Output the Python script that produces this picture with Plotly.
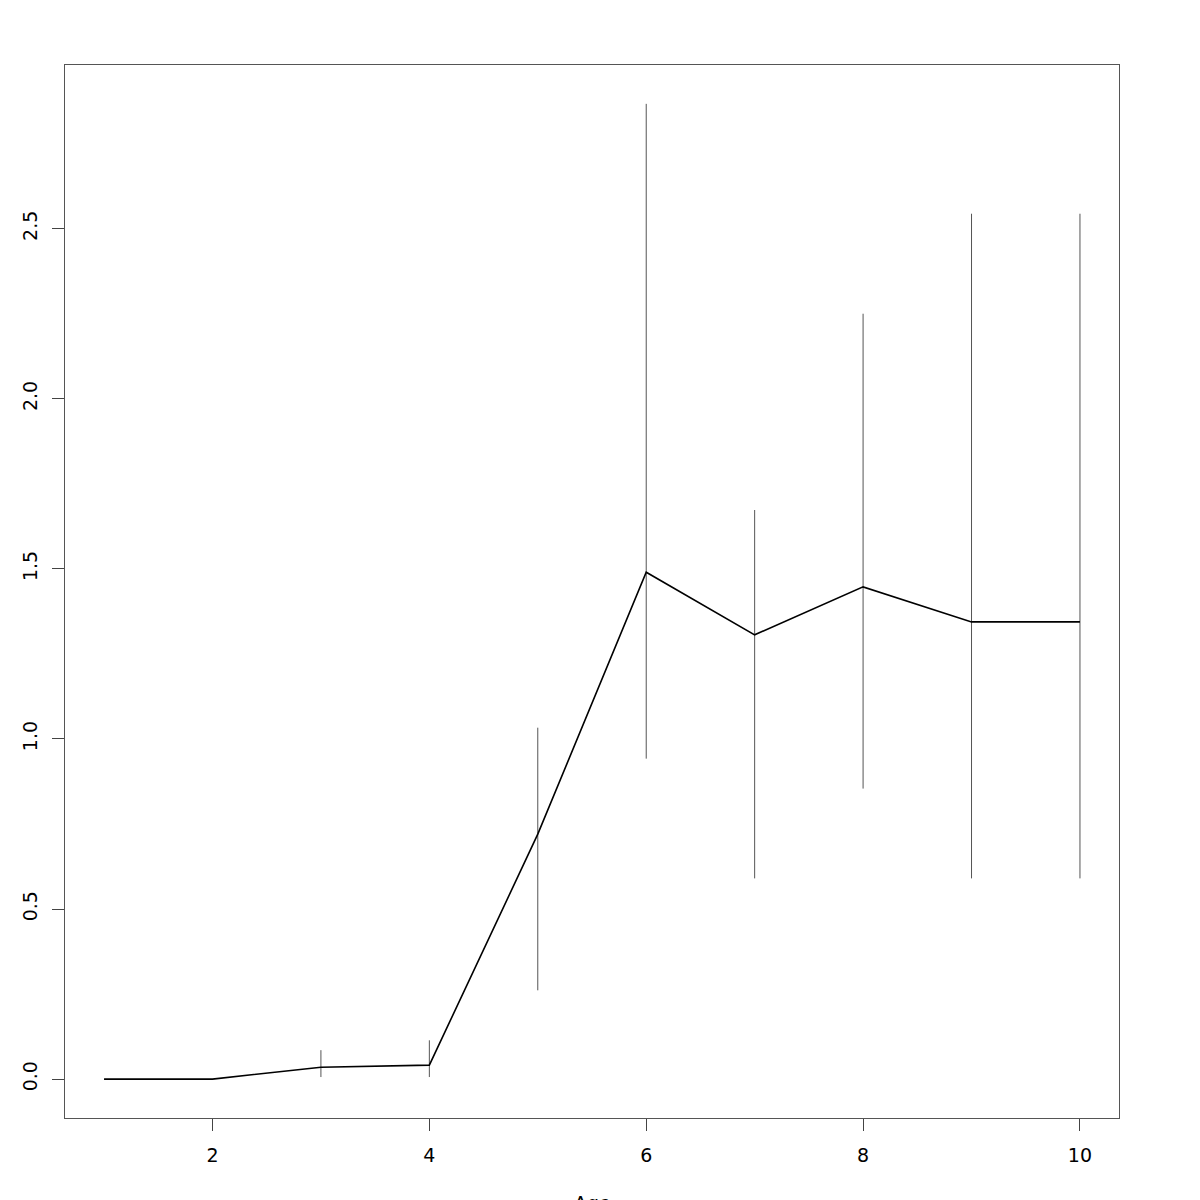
import plotly.graph_objects as go

age = [1, 2, 3, 4, 5, 6, 7, 8, 9, 10]
mean_val = [0.0, 0.0, 0.035, 0.041, 0.72, 1.49, 1.306, 1.447, 1.344, 1.344]
lower = [0.0, 0.0, 0.006, 0.006, 0.261, 0.942, 0.59, 0.854, 0.59, 0.59]
upper = [0.0, 0.0, 0.085, 0.114, 1.033, 2.867, 1.673, 2.25, 2.544, 2.544]
x_ticks = [2, 4, 6, 8, 10]
y_ticks = [0.0, 0.5, 1.0, 1.5, 2.0, 2.5]
y_tick_text = ["0.0", "0.5", "1.0", "1.5", "2.0", "2.5"]

err_plus = [u - m for u, m in zip(upper, mean_val)]
err_minus = [m - l for m, l in zip(mean_val, lower)]

fig = go.Figure()
fig.add_trace(go.Scatter(
    x=age, y=mean_val, mode="lines",
    line=dict(color="black", width=1.6),
    error_y=dict(type="data", symmetric=False, array=err_plus, arrayminus=err_minus,
                 color="#555555", thickness=1, width=0),
    showlegend=False,
))

font = dict(family="DejaVu Sans", size=19, color="black")
fig.update_layout(
    width=1192, height=1192,
    margin=dict(l=57, r=81, t=57, b=82),
    paper_bgcolor="white", plot_bgcolor="white",
    font=font,
    xaxis=dict(range=[0.64, 10.36], tickvals=x_ticks, ticks="outside", ticklen=12,
               tickcolor="#444444", showline=True, linecolor="#555555", linewidth=1,
               mirror=True, showgrid=False, zeroline=False, tickfont=font,
               ticklabelstandoff=8, automargin=False),
    yaxis=dict(range=[-0.1144, 2.9812], tickvals=y_ticks, ticktext=y_tick_text,
               ticks="outside", ticklen=12, tickcolor="#444444", tickangle=-90,
               showline=True, linecolor="#555555", linewidth=1, mirror=True,
               showgrid=False, zeroline=False, tickfont=font,
               ticklabelstandoff=7, automargin=False),
)
plot_h = 1192 - 57 - 82
fig.add_annotation(text="Age", xref="paper", yref="paper", x=0.5,
                   y=-(1190 - 1118) / plot_h, yanchor="top", showarrow=False,
                   font=font)

fig.write_html("out.html")
